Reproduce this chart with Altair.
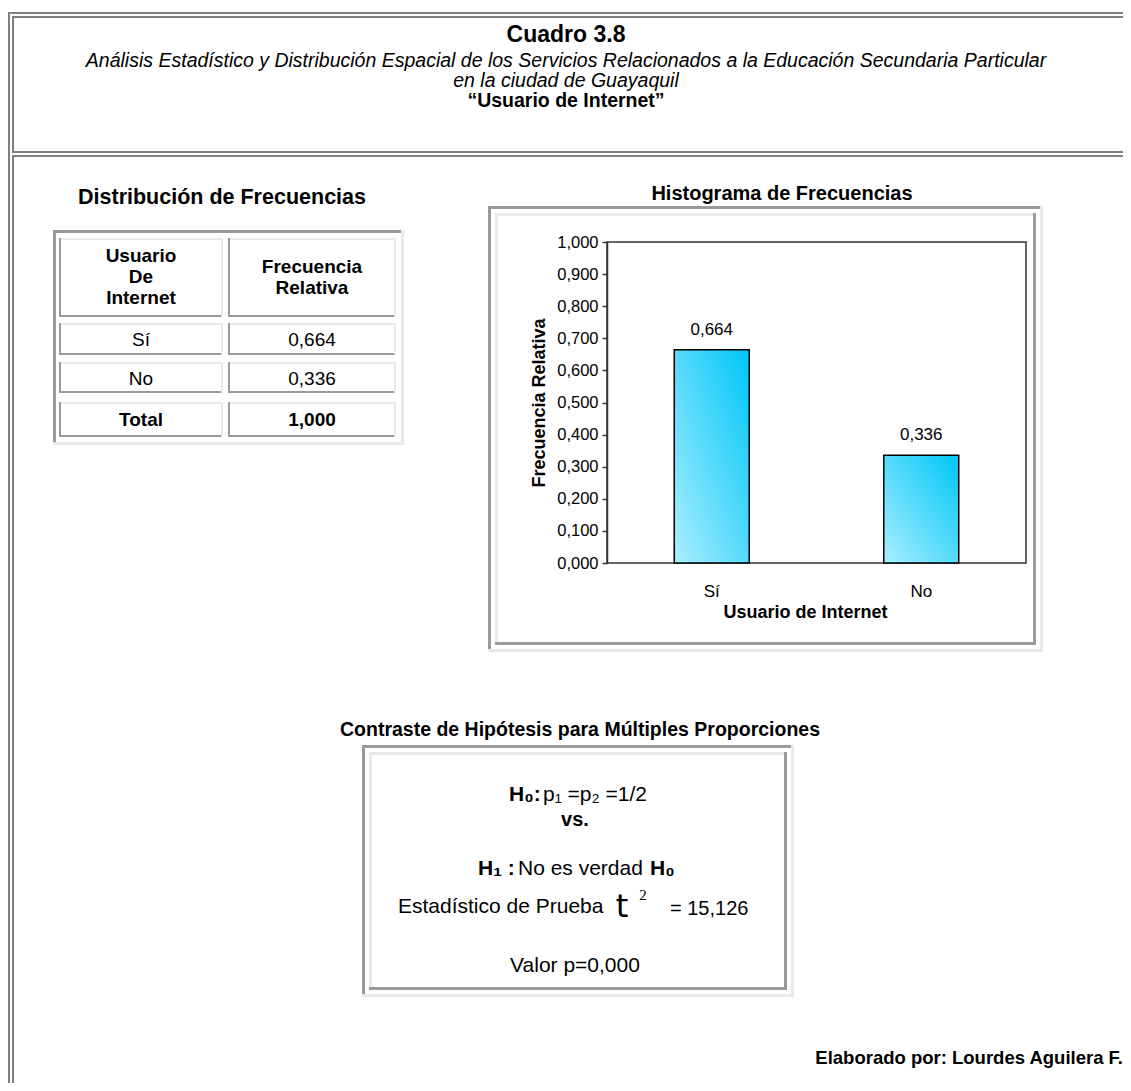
import altair as alt
import pandas as pd

# ---------------- data ----------------
categories = ["Sí", "No"]
rel_freq = [0.664, 0.336]
total_freq = 1.000
y_ticks = [0.0, 0.1, 0.2, 0.3, 0.4, 0.5, 0.6, 0.7, 0.8, 0.9, 1.0]
test_stat = 15.126
p_value = 0.000

title_main = "Cuadro 3.8"
subtitle_1 = "Análisis Estadístico y Distribución Espacial de los  Servicios Relacionados a la Educación Secundaria Particular"
subtitle_2 = "en la ciudad de Guayaquil"
subtitle_3 = "\u201cUsuario de Internet\u201d"
author = "Elaborado por: Lourdes Aguilera F."

# ---------------- layout ----------------
W, H = 1115, 1075
FONT = "Liberation Sans"
FRAME = "#808080"
DARK = "#9a9a9a"
LIGHT = "#e9e9e9"


def comma(v):
    return f"{v:.3f}".replace(".", ",")


one = alt.Data(values=[{"k": 0}])
layers = []


def rule(x1, y1, x2, y2, color, width):
    layers.append(
        alt.Chart(one)
        .mark_rule(color=color, strokeWidth=width, strokeCap="butt")
        .encode(x=alt.value(x1), y=alt.value(y1), x2=alt.value(x2), y2=alt.value(y2))
    )


def box(x1, y1, x2, y2, color, width):
    layers.append(
        alt.Chart(one)
        .mark_rect(fill="transparent", stroke=color, strokeWidth=width)
        .encode(x=alt.value(x1), y=alt.value(y1), x2=alt.value(x2), y2=alt.value(y2))
    )


def text(s, x, y, size, weight="normal", style="normal", align="center",
         font=FONT, color="#000000", baseline="middle"):
    layers.append(
        alt.Chart(one)
        .mark_text(text=s, fontSize=size, fontWeight=weight, fontStyle=style,
                   align=align, baseline=baseline, font=font, color=color)
        .encode(x=alt.value(x), y=alt.value(y))
    )


def panel(x1, y1, x2, y2, t=3, gap=4):
    # outer border: dark top/left, light bottom/right
    rule(x1, y1 + t / 2, x2, y1 + t / 2, DARK, t)
    rule(x1 + t / 2, y1, x1 + t / 2, y2, DARK, t)
    rule(x1, y2 - t / 2, x2, y2 - t / 2, LIGHT, t)
    rule(x2 - t / 2, y1, x2 - t / 2, y2, LIGHT, t)
    # inner cell: light top/left, dark bottom/right
    a1, b1, a2, b2 = x1 + t + gap, y1 + t + gap, x2 - t - gap, y2 - t - gap
    rule(a1, b1 + t / 2, a2, b1 + t / 2, LIGHT, t)
    rule(a1 + t / 2, b1, a1 + t / 2, b2, LIGHT, t)
    rule(a1, b2 - t / 2, a2, b2 - t / 2, DARK, t)
    rule(a2 - t / 2, b1, a2 - t / 2, b2, DARK, t)


# ---- page frame (double lines) ----
rule(0, 5, W, 5, FRAME, 2)
rule(4, 9, W, 9, FRAME, 2)
rule(1, 4, 1, H, FRAME, 2)
rule(5, 8, 5, 145, FRAME, 2)
rule(5, 147, 5, H, FRAME, 2)
rule(4, 144, W, 144, FRAME, 2)
rule(4, 148, W, 148, FRAME, 2)

# ---- header texts ----
text(title_main, 558, 27, 23, weight="bold")
text(subtitle_1, 558, 53, 19.5, style="italic")
text(subtitle_2, 558, 73, 19.5, style="italic")
text(subtitle_3, 558, 93, 19.5, weight="bold")

# ---- frequency table ----
text("Distribución  de Frecuencias", 214, 190, 21.5, weight="bold")
rule(45, 223.5, 396, 223.5, DARK, 3)
rule(46.5, 222, 46.5, 437, DARK, 3)
rule(45, 435.5, 396, 435.5, LIGHT, 3)
rule(394.5, 222, 394.5, 437, LIGHT, 3)

col_x = [(51, 215), (220, 388)]
row_y = [(230, 309), (315, 347), (354, 385), (394, 429)]
for (xa, xb) in col_x:
    for (ya, yb) in row_y:
        rule(xa, ya + 1, xb, ya + 1, LIGHT, 2)
        rule(xa + 1, ya, xa + 1, yb, DARK, 2)
        rule(xa, yb - 1, xb, yb - 1, DARK, 2)
        rule(xb - 1, ya, xb - 1, yb, LIGHT, 2)

c1 = (col_x[0][0] + col_x[0][1]) / 2
c2 = (col_x[1][0] + col_x[1][1]) / 2
for s, yy in zip(["Usuario", "De", "Internet"], [248, 269, 290]):
    text(s, c1, yy, 19, weight="bold")
for s, yy in zip(["Frecuencia", "Relativa"], [259, 280]):
    text(s, c2, yy, 19, weight="bold")
for cat, val, (ya, yb) in zip(categories, rel_freq, row_y[1:3]):
    text(cat, c1, (ya + yb) / 2 + 1, 19)
    text(comma(val), c2, (ya + yb) / 2 + 1, 19)
text("Total", c1, 412, 19, weight="bold")
text(comma(total_freq), c2, 412, 19, weight="bold")

# ---- histogram panel ----
text("Histograma de Frecuencias", 774, 186, 20, weight="bold")
panel(480, 198, 1035, 644)

PX0, PX1 = 599, 1018
PY0, PY1 = 555, 234
box(PX0, PY1, PX1, PY0, "#333333", 1.5)

# ---- hypothesis test panel ----
text("Contraste de Hipótesis para Múltiples Proporciones", 572, 722, 19.5, weight="bold")
panel(354, 737, 786, 989)
text("H₀:", 501, 787, 21, weight="bold", align="left")
text("p₁ =p₂ =1/2", 535, 787, 21, align="left")
text("vs.", 567, 812, 20, weight="bold")
text("H₁ :", 470, 861, 21, weight="bold", align="left")
text("No es verdad", 510, 861, 21, align="left")
text("H₀", 642, 861, 21, weight="bold", align="left")
text("Estadístico de Prueba", 390, 899, 21, align="left")
text("t", 614, 899, 32, font="DejaVu Sans")
text("2", 635, 887, 15, font="Liberation Serif")
text("= " + comma(test_stat), 662, 901, 20, align="left")
text("Valor p=" + comma(p_value), 567, 958, 21)

# ---- footer ----
text(author, 1115, 1050, 18.5, weight="bold", align="right")

# ---- histogram bars through scales ----
hist_df = pd.DataFrame({"cat": categories, "val": rel_freq,
                        "label": [comma(v) for v in rel_freq]})

xscale = alt.Scale(domain=categories, range=[PX0, PX1], paddingInner=0, paddingOuter=0)
yscale = alt.Scale(domain=[0, 1], range=[PY0, PY1], nice=False, zero=True)

grad = alt.Gradient(
    gradient="linear",
    stops=[alt.GradientStop(color="#aaeeff", offset=0),
           alt.GradientStop(color="#00c6f8", offset=1)],
    x1=0, y1=1, x2=1, y2=0,
)

bars = (
    alt.Chart(hist_df)
    .mark_bar(size=75, color=grad, stroke="#000000", strokeWidth=1.5)
    .encode(
        x=alt.X("cat:N", scale=xscale, sort=categories,
                axis=alt.Axis(orient="bottom", offset=PY0 - H, title="Usuario de Internet",
                              labelAngle=0, labelFontSize=17, labelFont=FONT, labelColor="#000",
                              labelPadding=20, ticks=False, domain=False,
                              titleFont=FONT, titleFontSize=18, titleFontWeight="bold",
                              titleColor="#000", titlePadding=4, titleX=797)),
        y=alt.Y("val:Q", scale=yscale,
                axis=alt.Axis(orient="left", offset=-PX0, values=y_ticks, grid=False,
                              labelExpr="replace(format(datum.value, '.3f'), '.', ',')",
                              labelFontSize=16.5, labelFont=FONT, labelColor="#000",
                              labelPadding=4, tickSize=5, tickColor="#333", tickWidth=1.5,
                              domainColor="#333", domainWidth=1.5,
                              title="Frecuencia Relativa", titleFont=FONT, titleFontSize=18,
                              titleFontWeight="bold", titleColor="#000", titlePadding=8)),
    )
)

labels = (
    alt.Chart(hist_df)
    .mark_text(dy=-20, fontSize=17, font=FONT, color="#000", baseline="middle")
    .encode(x=alt.X("cat:N", scale=xscale, sort=categories),
            y=alt.Y("val:Q", scale=yscale),
            text="label:N")
)

chart = (
    alt.layer(*layers, bars, labels)
    .properties(width=W, height=H, padding=0, autosize=alt.AutoSizeParams(type="none"))
    .configure_view(strokeWidth=0)
)

chart.save("out.html", embed_options={"renderer": "svg", "actions": False})
